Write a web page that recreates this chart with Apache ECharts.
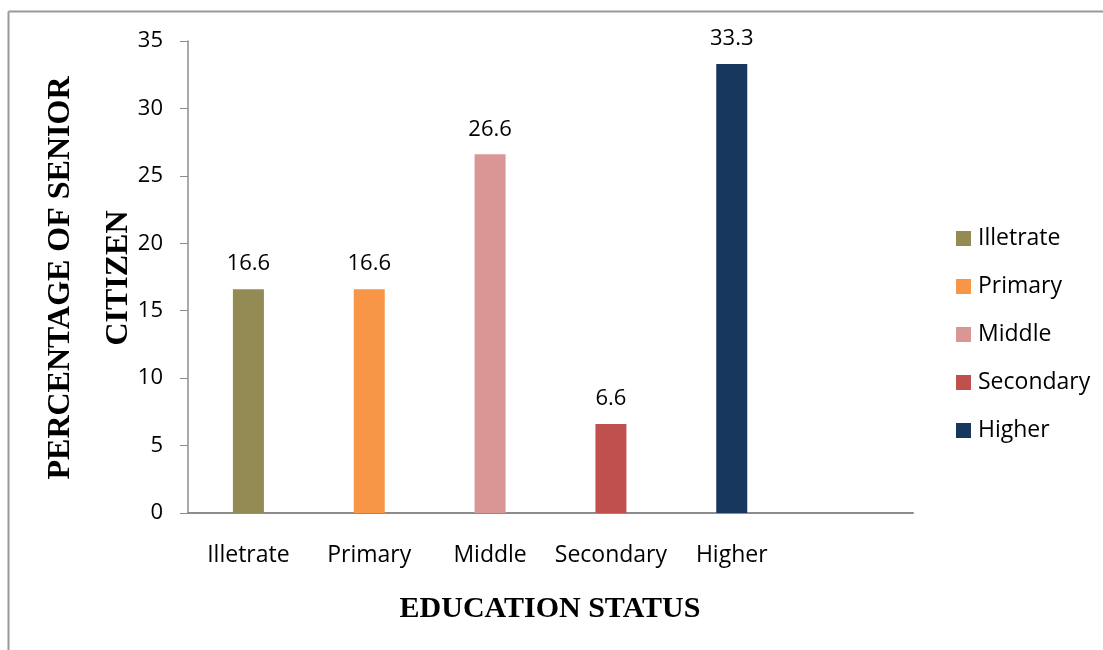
<!DOCTYPE html>
<html>
<head>
<meta charset="utf-8">
<script src="https://cdn.jsdelivr.net/npm/echarts@6/dist/echarts.min.js"></script>
<style>
html,body{margin:0;padding:0;background:#fff;}
#chart{width:1103px;height:650px;}
</style>
</head>
<body>
<div id="chart"></div>
<script>
var categories = ['Illetrate', 'Primary', 'Middle', 'Secondary', 'Higher'];
var values = [16.6, 16.6, 26.6, 6.6, 33.3];
var colors = ['#948A54', '#F79646', '#D99694', '#C0504D', '#17375E'];
var yTicks = [0, 5, 10, 15, 20, 25, 30, 35];

var axisCats = categories.concat(['']);
var series = categories.map(function (name, i) {
  var d = axisCats.map(function (c, j) { return j === i ? values[i] : '-'; });
  return {
    name: name,
    type: 'bar',
    data: d,
    barWidth: 31,
    barGap: '-100%',
    itemStyle: { color: colors[i] },
    label: {
      show: true,
      position: 'top',
      distance: 14,
      fontFamily: 'Open Sans',
      fontSize: 22,
      color: '#000'
    }
  };
});

var chart = echarts.init(document.getElementById('chart'));
chart.setOption({
  animation: false,
  backgroundColor: '#fff',
  grid: { left: 188, right: 190, top: 41, bottom: 137 },
  legend: {
    orient: 'vertical',
    left: 956,
    top: 227,
    padding: 0,
    icon: 'rect',
    itemWidth: 15,
    itemHeight: 15,
    itemGap: 25,
    textStyle: { fontFamily: 'Open Sans', fontSize: 23, color: '#000', lineHeight: 23, padding: [0, 0, 0, 2] },
    data: categories
  },
  xAxis: {
    type: 'category',
    data: axisCats,
    axisLine: { lineStyle: { color: '#8c8c8c', width: 2 } },
    axisTick: { show: false },
    axisLabel: { fontFamily: 'Open Sans', fontSize: 23, color: '#000', margin: 31, interval: 0 }
  },
  yAxis: {
    type: 'value',
    min: yTicks[0],
    max: yTicks[yTicks.length - 1],
    interval: 5,
    axisLine: { show: true, lineStyle: { color: '#8c8c8c', width: 1.5 } },
    axisTick: { show: true, length: 8, lineStyle: { color: '#8c8c8c' } },
    splitLine: { show: false },
    axisLabel: { fontFamily: 'Open Sans', fontSize: 22, color: '#000', margin: 25 }
  },
  graphic: [
    { type: 'line', shape: { x1: 8.5, y1: 11.5, x2: 1103, y2: 11.5 }, style: { stroke: '#999', lineWidth: 2 } },
    { type: 'line', shape: { x1: 8.5, y1: 11.5, x2: 8.5, y2: 650 }, style: { stroke: '#999', lineWidth: 2 } },
    { type: 'text', x: 61, y: 278, rotation: Math.PI / 2,
      style: { text: 'PERCENTAGE OF SENIOR', font: 'bold 32px "Liberation Serif"', fill: '#000', textAlign: 'center', textVerticalAlign: 'middle' } },
    { type: 'text', x: 119, y: 278, rotation: Math.PI / 2,
      style: { text: 'CITIZEN', font: 'bold 32px "Liberation Serif"', fill: '#000', textAlign: 'center', textVerticalAlign: 'middle' } },
    { type: 'text', x: 550, y: 609,
      style: { text: 'EDUCATION STATUS', font: 'bold 30px "Liberation Serif"', fill: '#000', textAlign: 'center', textVerticalAlign: 'middle' } }
  ],
  series: series
});
</script>
</body>
</html>
